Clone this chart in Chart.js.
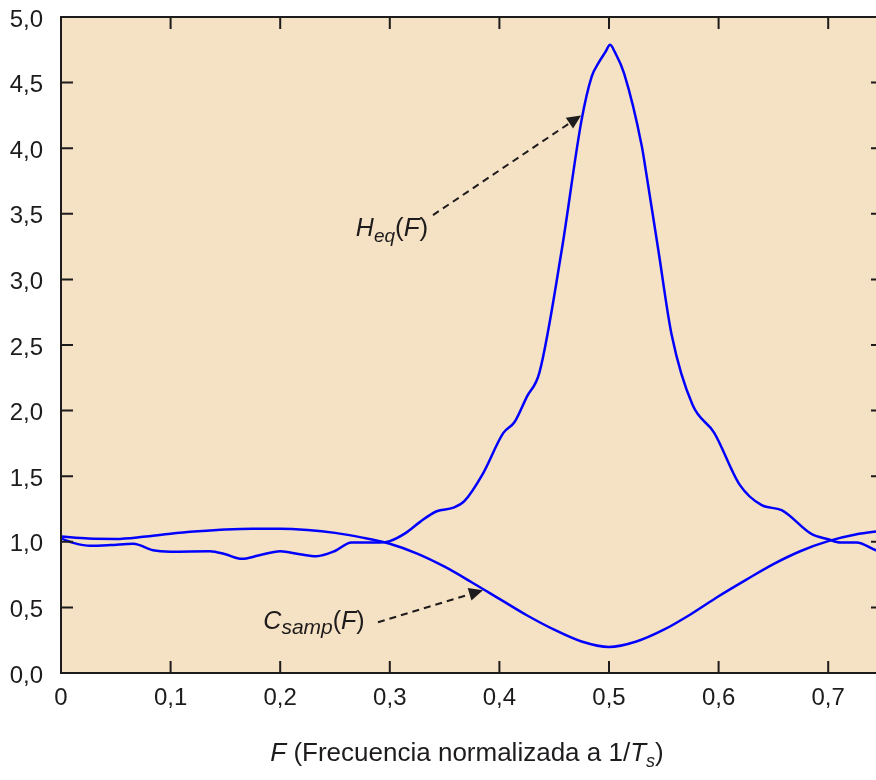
<!DOCTYPE html>
<html>
<head>
<meta charset="utf-8">
<script src="https://cdn.jsdelivr.net/npm/chart.js@4.4.1/dist/chart.umd.min.js"></script>
<style>
  html, body { margin: 0; padding: 0; background: #ffffff; overflow: hidden; width: 876px; height: 780px; }
  #wrap { position: absolute; left: 0; top: 0; width: 890px; height: 780px; }
  canvas { display: block; }
</style>
</head>
<body>
<div id="wrap"><canvas id="c" width="890" height="780"></canvas></div>
<script>
// ---------- data ----------
const xTicks = [0, 0.1, 0.2, 0.3, 0.4, 0.5, 0.6, 0.7];
const xTickLabels = ['0', '0,1', '0,2', '0,3', '0,4', '0,5', '0,6', '0,7'];
const yTicks = [0, 0.5, 1, 1.5, 2, 2.5, 3, 3.5, 4, 4.5, 5];
const yTickLabels = ['0,0', '0,5', '1,0', '1,5', '2,0', '2,5', '3,0', '3,5', '4,0', '4,5', '5,0'];

const csampF = [0, 0.025, 0.05, 0.075, 0.1, 0.125, 0.15, 0.175, 0.2, 0.225, 0.25, 0.275, 0.3,
  0.325, 0.35, 0.375, 0.4, 0.425, 0.45, 0.475, 0.5, 0.525, 0.55, 0.575, 0.6, 0.625, 0.65,
  0.675, 0.7, 0.725, 0.75];
const csampVal = [1.04, 1.025, 1.022, 1.038, 1.062, 1.08, 1.094, 1.10, 1.10, 1.09, 1.068, 1.032, 0.985,
  0.91, 0.81, 0.69, 0.565, 0.44, 0.33, 0.24, 0.198, 0.24, 0.33, 0.45, 0.585, 0.71, 0.83,
  0.93, 1.005, 1.055, 1.085];

const heqF = [0, 0.012, 0.027, 0.045, 0.066, 0.084, 0.1, 0.136, 0.15, 0.165, 0.18, 0.2, 0.218,
  0.233, 0.25, 0.265, 0.291, 0.3, 0.315, 0.3276, 0.3428, 0.358, 0.368, 0.385, 0.4036, 0.414,
  0.425, 0.4365, 0.4568, 0.475, 0.4842, 0.4903, 0.4965, 0.501, 0.5055, 0.5137, 0.53, 0.5335,
  0.545, 0.5572, 0.5763, 0.596, 0.6195, 0.6393, 0.6575, 0.685, 0.7, 0.711, 0.726, 0.7436, 0.75];
const heqVal = [1.025, 0.99, 0.97, 0.975, 0.985, 0.935, 0.925, 0.928, 0.905, 0.87, 0.895, 0.928, 0.905,
  0.89, 0.93, 0.995, 0.995, 1.005, 1.07, 1.152, 1.233, 1.26, 1.31, 1.52, 1.83, 1.915,
  2.105, 2.29, 3.22, 4.216, 4.546, 4.648, 4.73, 4.788, 4.73, 4.572, 4.012, 3.835,
  3.224, 2.576, 2.042, 1.831, 1.432, 1.279, 1.241, 1.058, 1.02, 0.995, 0.995, 0.936, 0.925];

// ---------- styles ----------
const FONT = '"Liberation Sans", Arial, Helvetica, sans-serif';
const INK = '#1E1B1C';
const BG = '#F5E1C3';
const LINE = '#0000FF';

const toPts = (xs, ys) => xs.map((x, i) => ({ x: x, y: ys[i] }));

const bgPlugin = {
  id: 'bg',
  beforeDraw(chart) {
    const { ctx, chartArea: a } = chart;
    ctx.save();
    ctx.fillStyle = BG;
    ctx.fillRect(a.left, a.top, a.right - a.left, a.bottom - a.top);
    ctx.restore();
  }
};

const framePlugin = {
  id: 'frame',
  afterDatasetsDraw(chart) {
    const { ctx, chartArea: a, scales } = chart;
    const TL = 12;
    ctx.save();
    ctx.strokeStyle = INK;
    ctx.lineWidth = 2;
    ctx.beginPath();
    ctx.moveTo(a.left, a.top); ctx.lineTo(a.right, a.top);
    ctx.moveTo(a.left, a.bottom); ctx.lineTo(a.right, a.bottom);
    ctx.moveTo(a.left, a.top - 1); ctx.lineTo(a.left, a.bottom + 1);
    ctx.moveTo(a.right, a.top - 1); ctx.lineTo(a.right, a.bottom + 1);
    xTicks.forEach(v => {
      const px = scales.x.getPixelForValue(v);
      ctx.moveTo(px, a.bottom); ctx.lineTo(px, a.bottom - TL);
      ctx.moveTo(px, a.top); ctx.lineTo(px, a.top + TL);
    });
    yTicks.forEach(v => {
      const py = scales.y.getPixelForValue(v);
      ctx.moveTo(a.left, py); ctx.lineTo(a.left + TL, py);
      ctx.moveTo(a.right, py); ctx.lineTo(a.right - TL, py);
    });
    ctx.stroke();
    ctx.restore();
  }
};

function drawRich(ctx, x, y, parts) {
  let cx = x;
  parts.forEach(p => {
    ctx.font = (p.italic ? 'italic ' : '') + p.size + 'px ' + FONT;
    ctx.fillText(p.t, cx, y + (p.dy || 0));
    cx += ctx.measureText(p.t).width;
  });
  return cx;
}
function richWidth(ctx, parts) {
  let w = 0;
  parts.forEach(p => {
    ctx.font = (p.italic ? 'italic ' : '') + p.size + 'px ' + FONT;
    w += ctx.measureText(p.t).width;
  });
  return w;
}

function dashedArrow(ctx, x1, y1, x2, y2) {
  const ang = Math.atan2(y2 - y1, x2 - x1);
  const HL = 14, HW = 6.5;
  const bx = x2 - HL * Math.cos(ang), by = y2 - HL * Math.sin(ang);
  ctx.save();
  ctx.strokeStyle = INK;
  ctx.fillStyle = INK;
  ctx.lineWidth = 2;
  ctx.setLineDash([7, 5]);
  ctx.beginPath();
  ctx.moveTo(x1, y1); ctx.lineTo(bx, by);
  ctx.stroke();
  ctx.setLineDash([]);
  ctx.beginPath();
  ctx.moveTo(x2, y2);
  ctx.lineTo(bx + HW * Math.sin(ang), by - HW * Math.cos(ang));
  ctx.lineTo(bx - HW * Math.sin(ang), by + HW * Math.cos(ang));
  ctx.closePath();
  ctx.fill();
  ctx.restore();
}

const annotPlugin = {
  id: 'annot',
  afterDraw(chart) {
    const { ctx, scales: { x, y } } = chart;
    ctx.save();
    ctx.fillStyle = INK;
    ctx.textBaseline = 'alphabetic';
    ctx.textAlign = 'left';
    // H_eq(F)
    drawRich(ctx, x.getPixelForValue(0.269), y.getPixelForValue(3.331), [
      { t: 'H', italic: true, size: 25 },
      { t: 'eq', italic: true, size: 19, dy: 6 },
      { t: '(', size: 26 },
      { t: 'F', italic: true, size: 26 },
      { t: ')', size: 26 }
    ]);
    dashedArrow(ctx, x.getPixelForValue(0.3394), y.getPixelForValue(3.49),
                     x.getPixelForValue(0.4745), y.getPixelForValue(4.25));
    // C_samp(F)
    drawRich(ctx, x.getPixelForValue(0.1846), y.getPixelForValue(0.339), [
      { t: 'C', italic: true, size: 25 },
      { t: 'samp', italic: true, size: 21, dy: 5 },
      { t: '(', size: 25 },
      { t: 'F', italic: true, size: 25 },
      { t: ')', size: 25 }
    ]);
    dashedArrow(ctx, x.getPixelForValue(0.2892), y.getPixelForValue(0.387),
                     x.getPixelForValue(0.385), y.getPixelForValue(0.631));
    // axis title
    const title = [
      { t: 'F', italic: true, size: 26 },
      { t: ' (Frecuencia normalizada a 1/', size: 26 },
      { t: 'T', italic: true, size: 26 },
      { t: 's', italic: true, size: 18, dy: 6 },
      { t: ')', size: 26 }
    ];
    const w = richWidth(ctx, title);
    drawRich(ctx, 467 - w / 2, 761, title);
    ctx.restore();
  }
};

new Chart(document.getElementById('c'), {
  type: 'line',
  data: {
    datasets: [
      {
        label: 'Heq(F)',
        data: toPts(heqF, heqVal),
        borderColor: LINE, borderWidth: 2.5, pointRadius: 0,
        cubicInterpolationMode: 'monotone', fill: false
      },
      {
        label: 'Csamp(F)',
        data: toPts(csampF, csampVal),
        borderColor: LINE, borderWidth: 2.5, pointRadius: 0,
        cubicInterpolationMode: 'monotone', fill: false
      }
    ]
  },
  options: {
    responsive: false,
    animation: false,
    devicePixelRatio: 1,
    layout: { padding: { top: 17, right: 7, left: 0, bottom: 0 } },
    plugins: { legend: { display: false }, tooltip: { enabled: false }, title: { display: false } },
    scales: {
      x: {
        type: 'linear', min: 0, max: 0.75,
        afterBuildTicks: s => { s.ticks = xTicks.map(v => ({ value: v })); },
        afterFit: s => { s.height = 107; s.paddingLeft = 0; s.paddingRight = 0; },
        grid: { display: false, drawTicks: false },
        border: { display: false },
        ticks: {
          callback: (v, i) => xTickLabels[i],
          font: { family: FONT, size: 24 }, color: INK,
          padding: 11, maxRotation: 0, autoSkip: false
        }
      },
      y: {
        type: 'linear', min: 0, max: 5,
        afterBuildTicks: s => { s.ticks = yTicks.map(v => ({ value: v })); },
        afterFit: s => { s.width = 61; s.paddingTop = 0; s.paddingBottom = 0; },
        grid: { display: false, drawTicks: false },
        border: { display: false },
        ticks: {
          callback: (v, i) => yTickLabels[i],
          font: { family: FONT, size: 24 }, color: INK,
          padding: 18, autoSkip: false, labelOffset: 3
        }
      }
    }
  },
  plugins: [bgPlugin, framePlugin, annotPlugin]
});
</script>
</body>
</html>
